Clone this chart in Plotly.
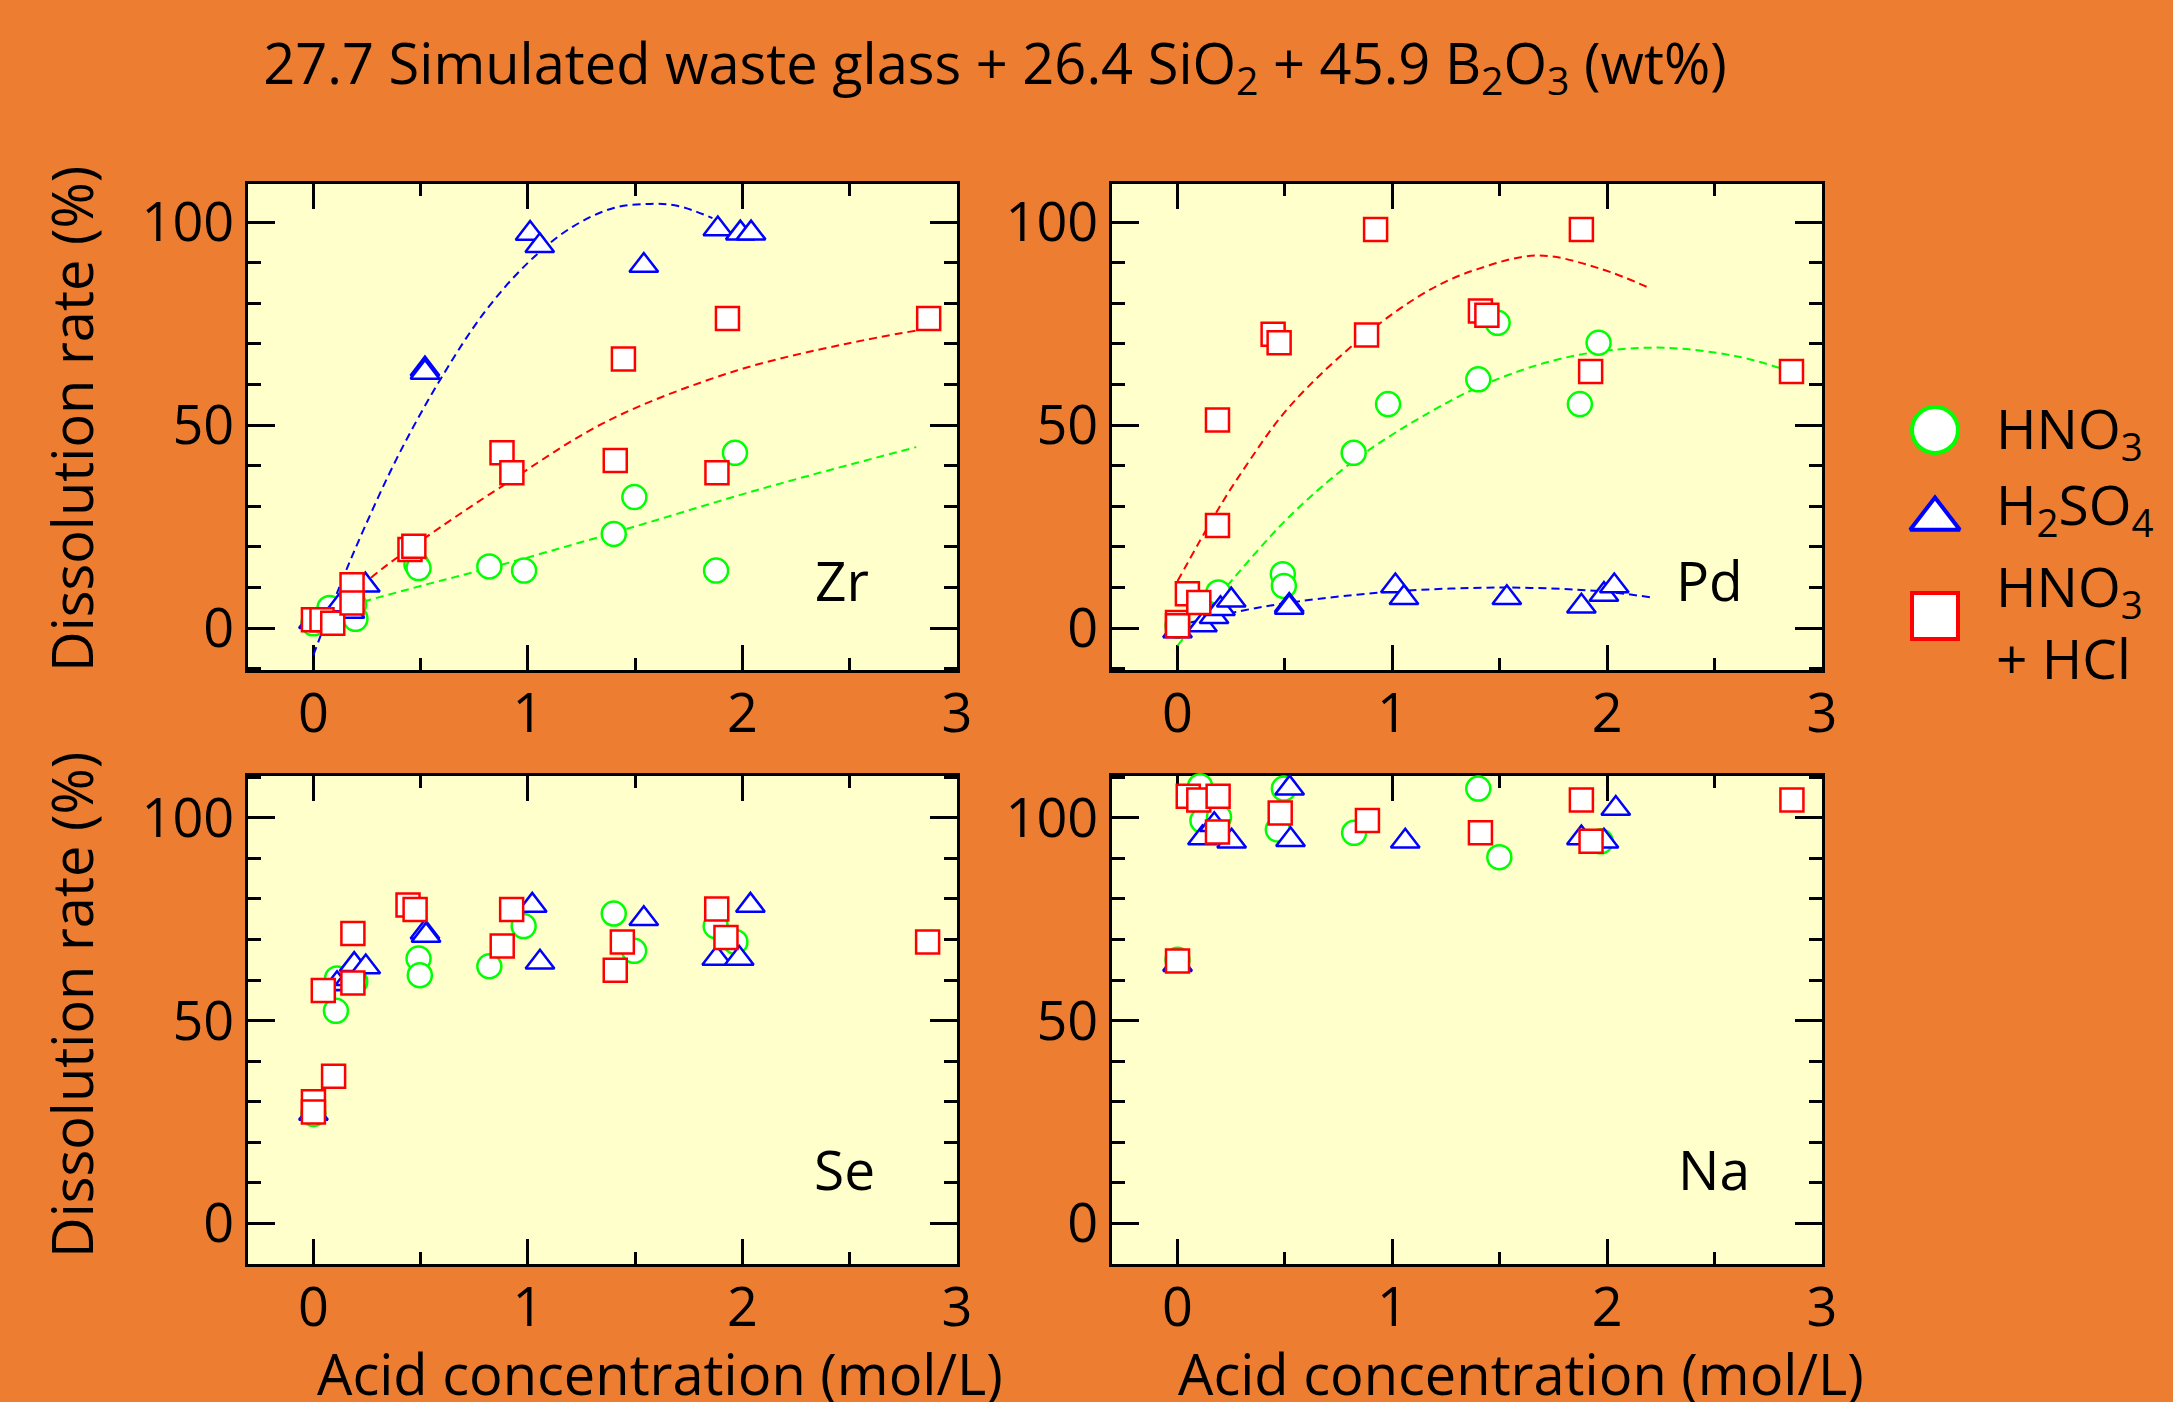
import plotly.graph_objects as go

# ---------------- data ----------------
series_names = ["HNO<sub>3</sub>", "H<sub>2</sub>SO<sub>4</sub>", "HNO<sub>3</sub><br>+ HCl"]
panel_names = ["Zr", "Pd", "Se", "Na"]
x_tick_vals = [0, 1, 2, 3]
y_tick_vals = [0, 50, 100]

# Zr
zr_hno3_x = [0.0, 0.075, 0.19, 0.196, 0.48, 0.49, 0.82, 0.982, 1.40, 1.496, 1.877, 1.965]
zr_hno3_y = [1.2, 5.0, 5.8, 2.3, 15.8, 14.8, 15.2, 14.2, 23.2, 32.3, 14.2, 43.2]
zr_h2so4_x = [0.0, 0.125, 0.17, 0.242, 0.52, 0.52, 1.01, 1.055, 1.54, 1.885, 1.99, 2.04]
zr_h2so4_y = [1.6, 5.7, 4.1, 10.6, 63.8, 63.0, 97.2, 94.2, 89.3, 98.3, 97.3, 97.3]
zr_mix_x = [0.0, 0.04, 0.09, 0.18, 0.18, 0.45, 0.468, 0.879, 0.925, 1.407, 1.445, 1.881, 1.93, 2.868]
zr_mix_y = [2.1, 2.1, 1.2, 10.7, 6.2, 19.4, 20.2, 43.2, 38.3, 41.3, 66.3, 38.3, 76.3, 76.3]
zr_fit_hno3_x = [0.0, 0.21, 0.55, 0.82, 1.4, 2.1, 2.81]
zr_fit_hno3_y = [3.0, 6.2, 11.1, 14.8, 23.5, 34.5, 44.6]
zr_fit_h2so4_x = [0.0, 0.12, 0.24, 0.4, 0.6, 0.8, 1.0, 1.2, 1.4, 1.57, 1.7, 1.86]
zr_fit_h2so4_y = [-6.6, 10.0, 25.0, 43.0, 62.0, 78.0, 90.0, 98.6, 103.5, 104.5, 104.0, 101.0]
zr_fit_mix_x = [0.0, 0.27, 0.5, 0.88, 1.37, 1.97, 2.48, 2.81]
zr_fit_mix_y = [-0.5, 12.5, 21.5, 35.0, 51.0, 63.4, 70.0, 73.3]

# Pd
pd_hno3_x = [0.0, 0.19, 0.49, 0.495, 0.82, 0.98, 1.40, 1.49, 1.873, 1.96]
pd_hno3_y = [0.6, 8.8, 13.3, 10.4, 43.2, 55.2, 61.3, 75.2, 55.2, 70.3]
pd_h2so4_x = [0.0, 0.116, 0.17, 0.2, 0.25, 0.52, 0.52, 1.014, 1.054, 1.533, 1.88, 1.985, 2.033]
pd_h2so4_y = [-0.7, 0.8, 2.8, 4.8, 6.9, 5.6, 5.1, 10.4, 7.5, 7.5, 5.4, 8.3, 10.4]
pd_mix_x = [0.0, 0.0, 0.046, 0.099, 0.186, 0.186, 0.445, 0.473, 0.88, 0.922, 1.41, 1.44, 1.88, 1.923, 2.858]
pd_mix_y = [1.4, 0.6, 8.5, 6.3, 25.3, 51.3, 72.4, 70.3, 72.2, 98.2, 78.1, 77.1, 98.2, 63.2, 63.2]
pd_fit_hno3_x = [0.0, 0.237, 0.521, 0.828, 1.178, 1.463, 1.836, 2.23, 2.6, 2.82]
pd_fit_hno3_y = [-4.3, 10.8, 27.5, 41.5, 53.3, 60.8, 67.0, 69.1, 67.0, 63.8]
pd_fit_h2so4_x = [0.0, 0.3, 0.565, 1.0, 1.51, 1.97, 2.2]
pd_fit_h2so4_y = [0.6, 4.3, 6.6, 9.0, 10.0, 9.1, 7.6]
pd_fit_mix_x = [0.0, 0.186, 0.3, 0.52, 0.88, 1.18, 1.4, 1.68, 1.97, 2.2]
pd_fit_mix_y = [11.6, 29.0, 38.5, 54.5, 72.5, 83.5, 88.5, 91.8, 88.5, 83.7]

# Se
se_hno3_x = [0.0, 0.105, 0.11, 0.195, 0.49, 0.496, 0.82, 0.98, 1.40, 1.495, 1.875, 1.967]
se_hno3_y = [27.0, 52.4, 60.4, 59.6, 65.3, 61.2, 63.4, 73.3, 76.4, 67.2, 73.3, 69.4]
se_h2so4_x = [0.0, 0.11, 0.17, 0.19, 0.244, 0.52, 0.525, 1.02, 1.056, 1.54, 1.88, 1.985, 2.037]
se_h2so4_y = [27.1, 59.1, 60.3, 63.8, 63.2, 71.8, 71.0, 78.4, 64.4, 75.1, 65.3, 65.3, 78.4]
se_mix_x = [0.0, 0.0, 0.094, 0.046, 0.184, 0.184, 0.441, 0.474, 0.88, 0.924, 1.407, 1.44, 1.88, 1.923, 2.863]
se_mix_y = [30.0, 27.5, 36.3, 57.4, 59.3, 71.5, 78.5, 77.4, 68.4, 77.4, 62.4, 69.4, 77.5, 70.5, 69.4]

# Na
na_hno3_x = [0.0, 0.105, 0.116, 0.193, 0.467, 0.495, 0.822, 1.40, 1.498, 1.877, 1.97]
na_hno3_y = [65.0, 107.8, 99.3, 100.2, 97.1, 107.2, 96.3, 107.2, 90.3, 110.4, 94.2]
na_h2so4_x = [0.0, 0.116, 0.171, 0.252, 0.522, 0.526, 1.06, 1.88, 1.985, 2.04]
na_h2so4_y = [63.8, 95.0, 98.3, 94.2, 107.3, 94.6, 94.2, 95.0, 94.2, 102.3]
na_mix_x = [0.0, 0.05, 0.099, 0.186, 0.189, 0.478, 0.884, 1.41, 1.88, 1.925, 2.86]
na_mix_y = [64.7, 105.3, 104.4, 96.5, 105.3, 101.2, 99.3, 96.3, 104.4, 94.2, 104.4]

# ---------------- styling ----------------
BG = "#ED7D31"
PANEL_BG = "#FFFFCC"
FONT = "Open Sans"
COLORS = ["#00FF00", "#0000FF", "#FF0000"]
SYMBOLS = ["circle", "triangle-up", "square"]
SIZES = [24, 25, 23]
LEG_SIZES = [46, 43, 46]

panels = [
    dict(pts=[(zr_hno3_x, zr_hno3_y), (zr_h2so4_x, zr_h2so4_y), (zr_mix_x, zr_mix_y)],
         fits=[(zr_fit_hno3_x, zr_fit_hno3_y), (zr_fit_h2so4_x, zr_fit_h2so4_y), (zr_fit_mix_x, zr_fit_mix_y)],
         xdom=[248 / 2173, 957 / 2173], ydom=[1 - 670 / 1402, 1 - 184 / 1402], yr=[-10.3, 109.4],
         lab=(0.838, 0.186)),
    dict(pts=[(pd_hno3_x, pd_hno3_y), (pd_h2so4_x, pd_h2so4_y), (pd_mix_x, pd_mix_y)],
         fits=[(pd_fit_hno3_x, pd_fit_hno3_y), (pd_fit_h2so4_x, pd_fit_h2so4_y), (pd_fit_mix_x, pd_fit_mix_y)],
         xdom=[1112 / 2173, 1822 / 2173], ydom=[1 - 670 / 1402, 1 - 184 / 1402], yr=[-10.3, 109.4],
         lab=(0.842, 0.186)),
    dict(pts=[(se_hno3_x, se_hno3_y), (se_h2so4_x, se_h2so4_y), (se_mix_x, se_mix_y)],
         fits=[], xdom=[248 / 2173, 957 / 2173], ydom=[1 - 1264 / 1402, 1 - 776 / 1402], yr=[-10.0, 110.3],
         lab=(0.842, 0.195)),
    dict(pts=[(na_hno3_x, na_hno3_y), (na_h2so4_x, na_h2so4_y), (na_mix_x, na_mix_y)],
         fits=[], xdom=[1112 / 2173, 1822 / 2173], ydom=[1 - 1264 / 1402, 1 - 776 / 1402], yr=[-10.0, 110.3],
         lab=(0.848, 0.195)),
]

fig = go.Figure()
shapes = []
annotations = []
layout_axes = {}

for i, p in enumerate(panels):
    n = i + 1
    xa = "x" if n == 1 else f"x{n}"
    ya = "y" if n == 1 else f"y{n}"
    # fitted dashed curves first
    for j, (fx, fy) in enumerate(p["fits"]):
        if not fx:
            continue
        fig.add_trace(go.Scatter(x=fx, y=fy, mode="lines", xaxis=xa, yaxis=ya,
                                 line=dict(color=COLORS[j], width=2, dash="8px,5px", shape="spline"),
                                 showlegend=False, hoverinfo="skip"))
    for j, (px, py) in enumerate(p["pts"]):
        fig.add_trace(go.Scatter(x=px, y=py, mode="markers", xaxis=xa, yaxis=ya, cliponaxis=False,
                                 marker=dict(symbol=SYMBOLS[j], size=SIZES[j], color="white",
                                             line=dict(color=COLORS[j], width=2.5)),
                                 name=series_names[j], showlegend=False))
    xkey = "xaxis" if n == 1 else f"xaxis{n}"
    ykey = "yaxis" if n == 1 else f"yaxis{n}"
    layout_axes[xkey] = dict(domain=p["xdom"], anchor=ya, range=[-0.305, 3.0], automargin=False,
                             layer="below traces",
                             tickmode="array", tickvals=x_tick_vals,
                             ticks="inside", ticklen=25, tickwidth=3, tickcolor="black",
                             minor=dict(tick0=0, dtick=0.5, ticks="inside", ticklen=12, tickwidth=3,
                                        tickcolor="black", showgrid=False),
                             showline=True, linewidth=3, linecolor="black", mirror="ticks",
                             showgrid=False, zeroline=False, ticklabelstandoff=-6,
                             tickfont=dict(family=FONT, size=54, color="black"))
    layout_axes[ykey] = dict(domain=p["ydom"], anchor=xa, range=p["yr"], automargin=False,
                             layer="below traces",
                             tickmode="array", tickvals=y_tick_vals,
                             ticks="inside", ticklen=27, tickwidth=3, tickcolor="black",
                             minor=dict(tick0=0, dtick=10, ticks="inside", ticklen=13, tickwidth=3,
                                        tickcolor="black", showgrid=False),
                             showline=True, linewidth=3, linecolor="black", mirror="ticks",
                             showgrid=False, zeroline=False, ticklabelstandoff=0,
                             tickfont=dict(family=FONT, size=54, color="black"))
    shapes.append(dict(type="rect", xref=f"{xa} domain", yref=f"{ya} domain", x0=0, x1=1, y0=0, y1=1,
                       fillcolor=PANEL_BG, line=dict(width=0), layer="below"))
    annotations.append(dict(text=panel_names[i], xref=f"{xa} domain", yref=f"{ya} domain",
                            x=p["lab"][0], y=p["lab"][1], xanchor="center", yanchor="middle",
                            showarrow=False, font=dict(family=FONT, size=55, color="black")))

# custom legend (large symbols) on an invisible axis pair
leg_y = [1 - 430 / 1402, 1 - 519 / 1402, 1 - 616 / 1402]
leg_text_y = [1 - 431 / 1402, 1 - 507 / 1402, 1 - 621 / 1402]
layout_axes["xaxis5"] = dict(domain=[0.86, 1.0], anchor="y5", range=[0, 1], visible=False,
                             fixedrange=True, automargin=False)
layout_axes["yaxis5"] = dict(domain=[0, 1], anchor="x5", range=[0, 1], visible=False,
                             fixedrange=True, automargin=False)
for j in range(3):
    fig.add_trace(go.Scatter(x=[(1935 / 2173 - 0.86) / 0.14], y=[leg_y[j]], mode="markers",
                             xaxis="x5", yaxis="y5", cliponaxis=False,
                             marker=dict(symbol=SYMBOLS[j], size=LEG_SIZES[j], color="white",
                                         line=dict(color=COLORS[j], width=4)),
                             name=series_names[j], showlegend=False, hoverinfo="skip"))
    annotations.append(dict(text=series_names[j], xref="paper", yref="paper", x=1994 / 2173, y=leg_text_y[j],
                            xanchor="left", yanchor="middle", align="left", showarrow=False,
                            font=dict(family=FONT, size=55, color="black")))

# axis titles
for yc in [1 - 419 / 1402, 1 - 1005 / 1402]:
    annotations.append(dict(text="Dissolution rate (%)", xref="paper", yref="paper", x=71 / 2173, y=yc,
                            textangle=-90, xanchor="center", yanchor="middle", showarrow=False,
                            font=dict(family=FONT, size=56, color="black")))
for xc in [660 / 2173, 1521 / 2173]:
    annotations.append(dict(text="Acid concentration (mol/L)", xref="paper", yref="paper", x=xc,
                            y=1 - 1373 / 1402, xanchor="center", yanchor="middle", showarrow=False,
                            font=dict(family=FONT, size=56, color="black")))

fig.update_layout(
    width=2173, height=1402, autosize=False,
    margin=dict(l=0, r=0, t=0, b=0, pad=0, autoexpand=False),
    paper_bgcolor=BG, plot_bgcolor=BG,
    showlegend=False,
    title=dict(text="27.7 Simulated waste glass + 26.4 SiO<sub>2</sub> + 45.9 B<sub>2</sub>O<sub>3</sub> (wt%)",
               x=995 / 2173, xanchor="center", y=1 - 64 / 1402, yanchor="middle", xref="paper", yref="paper",
               automargin=False,
               font=dict(family=FONT, size=56, color="black")),
    shapes=shapes, annotations=annotations,
    **layout_axes,
)

fig.write_html(
    "out.html",
    config={"displayModeBar": False, "responsive": False},
    post_script=("document.documentElement.style.margin='0';"
                 "document.documentElement.style.overflow='hidden';"
                 "document.body.style.margin='0';"
                 "document.body.style.overflow='hidden';"
                 "document.body.style.backgroundColor='#ED7D31';"),
)
